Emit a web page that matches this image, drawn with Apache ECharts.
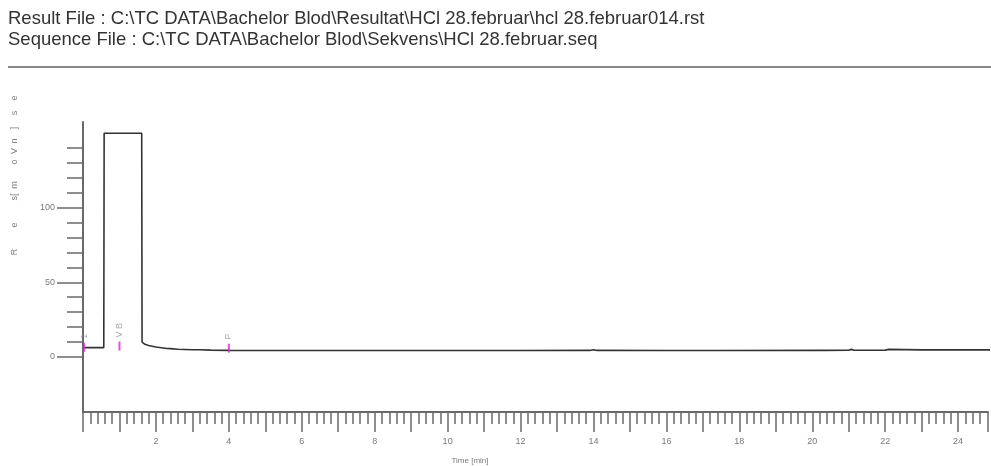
<!DOCTYPE html>
<html>
<head>
<meta charset="utf-8">
<script src="https://cdn.jsdelivr.net/npm/echarts@6/dist/echarts.min.js"></script>
<style>
html,body{margin:0;padding:0;background:#fff;}
#chart{width:991px;height:466px;}
</style>
</head>
<body>
<div id="chart"></div>
<script>
// ---- data ----
var titleLines = [
  "Result File : C:\\TC DATA\\Bachelor Blod\\Resultat\\HCl 28.februar\\hcl 28.februar014.rst",
  "Sequence File : C:\\TC DATA\\Bachelor Blod\\Sekvens\\HCl 28.februar.seq"
];
var times  = [0, 0.57, 0.58, 1.61, 1.62, 1.7, 1.8, 2.0, 2.3, 2.4, 2.6, 3.0, 3.2, 3.5, 4.0, 6.0, 7.85, 7.9, 7.95, 10, 12, 13.9, 14.0, 14.1, 16, 17.35, 17.4, 17.45, 20.25, 20.3, 20.35, 21.0, 21.07, 21.15, 22.0, 22.1, 23, 25];
var values = [6.2, 6.2, 150, 150, 9.8, 8.4, 7.6, 6.6, 5.6, 5.5, 5.1, 4.8, 4.8, 4.5, 4.3, 4.2, 4.2, 4.6, 4.2, 4.2, 4.2, 4.3, 4.8, 4.3, 4.2, 4.2, 4.6, 4.2, 4.3, 4.8, 4.3, 4.4, 5.0, 4.4, 4.5, 5.0, 4.7, 4.7];
var peakTimes  = [0.03, 1.0, 4.0];
var peakValues = [6.4, 7.2, 5.8];
var peakNames  = ["1", "V B", "P"];
var yMajorTicks = [0, 50, 100];
var yMinorTicks = [10, 20, 30, 40, 60, 70, 80, 90, 110, 120, 130, 140];
var xAxisName = "Time [min]";
var yAxisLetters = ["R", "e", "s[", "m", "o", "V", "n", "]", "s", "e"];
var yAxisLetterY = [252, 225, 197, 185, 162, 151, 141, 128, 113, 98];

// ---- chart ----
var chart = echarts.init(document.getElementById('chart'), null, {renderer: 'canvas'});
var FONT = '"Liberation Sans", Arial, sans-serif';
var axisCol = '#6a6a6a';
var labelCol = '#7a7a7a';

var graphics = [];
titleLines.forEach(function (t, i) {
  graphics.push({type: 'text', left: 8, top: 9 + i * 21,
    style: {text: t, fill: '#333', font: '18.5px ' + FONT}});
});
graphics.push({type: 'line', shape: {x1: 8, y1: 67, x2: 991, y2: 67},
  style: {stroke: '#888', lineWidth: 2}});
graphics.push({type: 'text', x: 470, y: 461,
  style: {text: xAxisName, fill: labelCol, font: '8px ' + FONT, textAlign: 'center', textVerticalAlign: 'middle'}});
yAxisLetters.forEach(function (ch, i) {
  graphics.push({type: 'text', x: 15, y: yAxisLetterY[i], rotation: Math.PI / 2,
    style: {text: ch, fill: '#808080', font: '9px ' + FONT, textAlign: 'center', textVerticalAlign: 'middle'}});
});

var lineData = times.map(function (t, i) { return [t, values[i]]; });
var peakData = peakTimes.map(function (t, i) { return {value: [t, peakValues[i]], name: peakNames[i]}; });

chart.setOption({
  animation: false,
  backgroundColor: '#fff',
  grid: {left: 83, right: 0, top: 122, bottom: 54, containLabel: false},
  xAxis: {
    type: 'value', min: 0, max: 24.82, interval: 1,
    axisLine: {show: true, onZero: false, lineStyle: {color: axisCol, width: 2}},
    axisTick: {show: true, length: 20, lineStyle: {color: axisCol, width: 1.5}},
    minorTick: {show: true, splitNumber: 5, length: 12, lineStyle: {color: axisCol, width: 1.5}},
    splitLine: {show: false}, minorSplitLine: {show: false},
    axisLabel: {color: labelCol, fontSize: 9, fontFamily: FONT, margin: 25,
      formatter: function (v) { return (v > 0 && v % 2 === 0) ? String(v) : ''; }}
  },
  yAxis: [{
    type: 'value', min: -37, max: 157.5,
    axisLine: {show: true, onZero: false, lineStyle: {color: axisCol, width: 2}},
    axisTick: {show: true, length: 26, customValues: yMajorTicks, lineStyle: {color: axisCol, width: 1.5}},
    axisLabel: {show: true, customValues: yMajorTicks, color: labelCol, fontSize: 9, fontFamily: FONT, margin: 28},
    splitLine: {show: false}
  }, {
    type: 'value', min: -37, max: 157.5, position: 'left',
    axisLine: {show: false, onZero: false},
    axisTick: {show: true, length: 16, customValues: yMinorTicks, lineStyle: {color: axisCol, width: 1.5}},
    axisLabel: {show: false},
    splitLine: {show: false}
  }],
  series: [{
    type: 'line', data: lineData, showSymbol: false, symbol: 'none',
    lineStyle: {color: '#333', width: 1.6}, z: 3
  }, {
    type: 'scatter', data: peakData, symbol: 'rect', symbolSize: [2, 9],
    itemStyle: {color: '#e020e0'}, z: 4,
    label: {show: true, formatter: '{b}', position: 'top', distance: 4, rotate: 90,
      align: 'left', verticalAlign: 'middle', color: '#999', fontSize: 9, fontFamily: FONT}
  }],
  graphic: graphics
});
</script>
</body>
</html>
